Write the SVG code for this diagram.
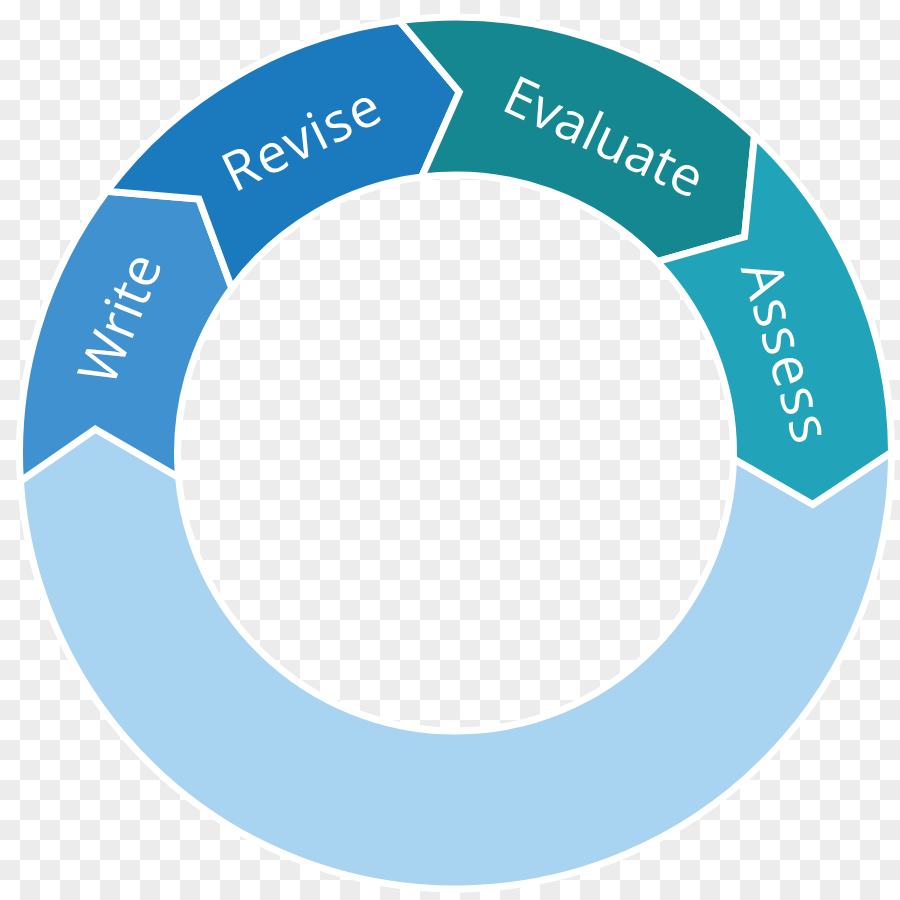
<svg xmlns="http://www.w3.org/2000/svg" width="900" height="900" viewBox="0 0 900 900">
  <defs>
    <pattern id="checker" width="40" height="40" patternUnits="userSpaceOnUse">
      <rect width="40" height="40" fill="#ffffff"/>
      <rect x="20" y="0" width="20" height="20" fill="#ececec"/>
      <rect x="0" y="20" width="20" height="20" fill="#ececec"/>
    </pattern>
  </defs>
  <style>
    .seg { stroke: #ffffff; stroke-width: 7; stroke-linejoin: miter; }
    .lbl { font-family: "Open Sans", "Liberation Sans", sans-serif; font-size: 54px; fill: #ffffff; text-anchor: middle; dominant-baseline: central; }
  </style>
  <rect width="900" height="900" fill="url(#checker)"/>
  <g id="connectors"></g>
  <g id="return">
    <path class="seg" fill="#a8d4f1" d="M891.5,452.24 A436,436 0 0 1 20.41,481.14 L95.29,429.08 L178.56,477.23 A278,278 0 0 0 733.44,458.82 L812.81,504.49 Z"/>
  </g>
  <g id="write">
    <path class="seg" fill="#3f92cf" d="M20.41,481.14 A436,436 0 0 1 106.84,191.22 L198.90,199.08 L231.74,288.03 A278,278 0 0 0 178.56,477.23 L95.29,429.08 Z"/>
    <text class="lbl" transform="translate(118,318) rotate(-68)">Write</text>
  </g>
  <g id="revise">
    <path class="seg" fill="#1b7abe" d="M106.84,191.22 A436,436 0 0 1 399.34,20.63 L459.28,92.02 L421.62,177.07 A278,278 0 0 0 231.74,288.03 L198.90,199.08 Z"/>
    <text class="lbl" transform="translate(301,137) rotate(-26)" style="letter-spacing:1.5px">Revise</text>
  </g>
  <g id="evaluate">
    <path class="seg" fill="#148790" d="M399.34,20.63 A436,436 0 0 1 754.52,135.69 L744.56,236.75 L657.15,261.64 A278,278 0 0 0 421.62,177.07 L459.28,92.02 Z"/>
    <text class="lbl" transform="translate(605,135) rotate(25)">Evaluate</text>
  </g>
  <g id="assess">
    <path class="seg" fill="#21a3b9" d="M754.52,135.69 A436,436 0 0 1 891.5,452.24 L812.81,504.49 L733.44,458.82 A278,278 0 0 0 657.15,261.64 L744.56,236.75 Z"/>
    <text class="lbl" transform="translate(789,352) rotate(73)" style="font-size:56px;letter-spacing:2.5px">Assess</text>
  </g>
</svg>
